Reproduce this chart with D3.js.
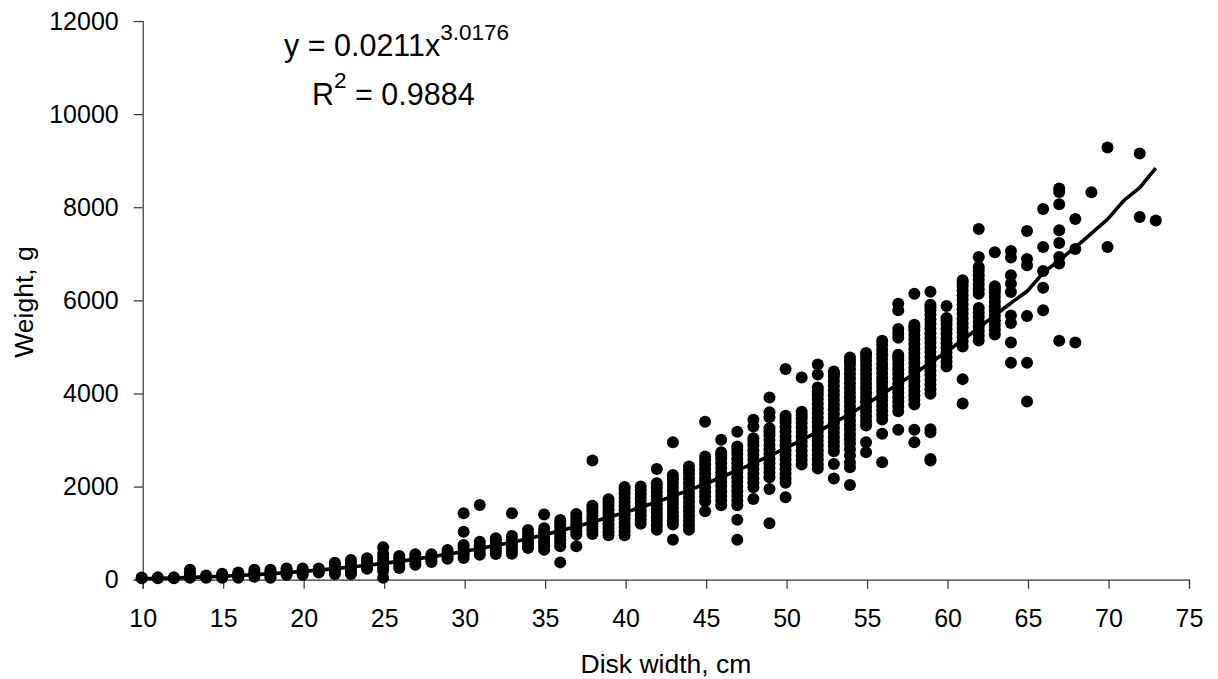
<!DOCTYPE html>
<html><head><meta charset="utf-8">
<script src="https://cdn.jsdelivr.net/npm/d3@7/dist/d3.min.js"></script>
<style>html,body{margin:0;padding:0;background:#fff}svg{display:block}text{font-family:"Liberation Sans",Arial,sans-serif;fill:#000}</style>
</head><body><svg id="c" width="1218" height="679"></svg>
<script>
const xTicks=[10,15,20,25,30,35,40,45,50,55,60,65,70,75];
const yTicks=[0,2000,4000,6000,8000,10000,12000];
const xTitle="Disk width, cm", yTitle="Weight, g";
const diskWidths=[10,11,12,13,14,15,16,17,18,19,20,21,22,23,24,25,26,27,28,29,30,31,32,33,34,35,36,37,38,39,40,41,42,43,44,45,46,47,48,49,50,51,52,53,54,55,56,57,58,59,60,61,62,63,64,65,66,67,68,69,70,72,73];
const weights=[
[30,45],[30,50],[30,50],[40,70,100,150,215],[40,60,90],[40,70,100,130],[40,70,110,157],[65,110,160,215],[40,80,130,170,215],[105,140,190,243],
[105,150,200,243],[157,200,243],[120,170,220,270,320,365],[122,180,240,300,360,423],[236,290,350,400,460],[40,194,260,330,400,480,565,695],[250,310,380,450,510],[322,380,440,500,545],[380,440,500,545],[450,500,570,638],
[466,540,610,680,745,1032,1426],[537,600,670,740,817,1605],[552,620,690,760,830,888],[559,630,700,770,850,940,1426],[682,750,820,900,980,1069],[645,720,790,860,940,1020,1103,1398],[372,716,790,860,930,1000,1070,1140,1210,1284],[716,968,1040,1110,1180,1250,1330,1413],[982,1060,1140,1220,1300,1380,1460,1530,1591,2559],[953,1030,1110,1190,1270,1350,1430,1510,1590,1660,1727],
[953,1040,1130,1220,1310,1400,1490,1580,1670,1760,1850,1930,1993],[1204,1290,1380,1470,1560,1650,1740,1830,1920,2000],[1075,1170,1260,1350,1440,1530,1620,1710,1800,1890,1980,2071,2380],[860,1183,1270,1360,1450,1540,1630,1720,1810,1900,1990,2080,2170,2251,2953],[1075,1170,1270,1370,1470,1570,1670,1770,1870,1970,2070,2170,2270,2350,2430],[1469,1684,1780,1880,1980,2080,2180,2280,2380,2480,2570,2645,3391],[1598,1700,1800,1900,2000,2100,2200,2300,2400,2500,2600,2680,2738,3004],[860,1290,1598,1700,1800,1900,2000,2100,2200,2300,2400,2500,2600,2700,2790,2860,3176],[1735,1985,2080,2180,2280,2380,2480,2580,2680,2780,2880,2960,3039,3290,3434],[1211,1950,2200,2300,2400,2500,2600,2700,2800,2900,3000,3100,3180,3254,3490,3598,3914],
[1770,2080,2180,2280,2380,2480,2580,2680,2780,2880,2980,3080,3180,3280,3380,3450,3520,4523],[2473,2570,2670,2770,2870,2970,3070,3170,3270,3370,3470,3540,3606,4344],[2387,2480,2580,2680,2780,2880,2980,3080,3180,3280,3380,3480,3580,3680,3780,3880,3980,4060,4129,4409,4624],[2172,2487,2759,2860,2960,3060,3160,3260,3360,3460,3560,3660,3760,3860,3960,4060,4160,4260,4360,4420,4473],[2036,2416,2520,2670,2800,2925,3020,3120,3220,3320,3420,3520,3620,3720,3820,3920,4020,4120,4220,4320,4420,4520,4620,4700,4774],[2738,2953,3312,3410,3510,3610,3710,3810,3910,4010,4110,4210,4310,4410,4510,4610,4710,4800,4867],[2523,3133,3441,3540,3640,3740,3840,3940,4040,4140,4240,4340,4440,4540,4640,4740,4840,4940,5040,5133],[3219,3620,3720,3820,3920,4020,4120,4220,4320,4420,4520,4620,4720,4780,4832,5197,5290,5383,5785,5928],[2953,3219,3763,3860,3960,4060,4160,4260,4360,4460,4560,4660,4760,4860,4960,5060,5160,5260,5360,5420,5476,6144],[2559,2595,3168,3230,3993,4090,4190,4290,4390,4490,4590,4690,4790,4890,4990,5090,5190,5290,5390,5490,5590,5690,5790,5850,5907,6187],
[4581,4680,4780,4880,4980,5080,5180,5280,5380,5480,5560,5620,5878],[3785,4308,5011,5110,5210,5310,5410,5510,5610,5710,5810,5910,6010,6110,6210,6310,6380,6430],[5140,5240,5340,5440,5540,5640,5740,5834,6144,6240,6340,6440,6540,6640,6716,6932,7534],[5269,5370,5470,5570,5670,5770,5870,5970,6070,6170,6240,6301,7032],[4660,5097,5512,5677,6179,6358,6538,6918,7060],[3828,4660,5663,6752,6890,7490],[5785,6273,6630,7146,7964],[5133,6789,6932,7232,7505,8065,8329,8402],[5097,7103,7749],[8323],[7146,9283],[7792,9154],[7713]
];
const fitWidths=[10,11,12,13,14,15,16,17,18,19,20,21,22,23,24,25,26,27,28,29,30,31,32,33,34,35,36,37,38,39,40,41,42,43,44,45,46,47,48,49,50,51,52,53,54,55,56,57,58,59,60,61,62,63,64,65,66,67,68,69,70,71,72,73];
const fitWeights=[22,30,38,50,60,75,90,108,128,152,178,206,238,272,310,350,394,442,494,548,605,668,734,806,882,963,1050,1142,1240,1340,1441,1555,1670,1795,1925,2056,2200,2350,2500,2660,2825,3000,3180,3370,3565,3767,3985,4205,4430,4660,4898,5150,5410,5680,5944,6194,6589,6860,7140,7440,7740,8140,8420,8840];

const svg=d3.select("#c");
const x=d3.scaleLinear().domain([10,75]).range([142.7,1189]);
const y=d3.scaleLinear().domain([0,12000]).range([579.7,21]);
const fs=25, titleFs=26.5;

const gx=svg.append("g").attr("transform","translate(0,579.7)").call(d3.axisBottom(x).tickValues(xTicks).tickSize(9).tickPadding(20.5).tickFormat(d3.format("d")));
const gy=svg.append("g").attr("transform","translate(142.7,0)").call(d3.axisLeft(y).tickValues(yTicks).tickSize(9).tickPadding(15).tickFormat(d3.format("d")));
[gx,gy].forEach(g=>{g.selectAll("text").style("font-size",fs+"px").style("font-family",'"Liberation Sans",Arial,sans-serif').attr("fill","#000");
 g.selectAll("line,path").attr("stroke","#333").attr("stroke-width",1.2);});

const plot=svg.append("g").attr("transform","translate(-1,0)");
const pts=diskWidths.flatMap((w,i)=>weights[i].map(v=>({w,v})));
plot.selectAll("circle").data(pts).join("circle").attr("cx",d=>x(d.w)).attr("cy",d=>y(d.v)).attr("r",6).attr("fill","#000");
plot.append("path").attr("d",d3.line().x((d,i)=>x(fitWidths[i])).y(d=>y(d))(fitWeights)).attr("fill","none").attr("stroke","#000").attr("stroke-width",3.6);

svg.append("text").attr("x",666).attr("y",673).attr("text-anchor","middle").style("font-size",titleFs+"px").text(xTitle);
svg.append("text").attr("transform","translate(33,302) rotate(-90)").attr("text-anchor","middle").style("font-size",titleFs+"px").text(yTitle);

const eq=svg.append("text").attr("x",284).attr("y",56).style("font-size","30.5px");
eq.append("tspan").text("y = 0.0211x");
eq.append("tspan").attr("dy",-16).style("font-size","22.5px").text("3.0176");
const r2=svg.append("text").attr("x",312).attr("y",105).style("font-size","30.5px");
r2.append("tspan").text("R");
r2.append("tspan").attr("dy",-17).style("font-size","22.5px").text("2");
r2.append("tspan").attr("dy",17).text(" = 0.9884");
</script></body></html>
